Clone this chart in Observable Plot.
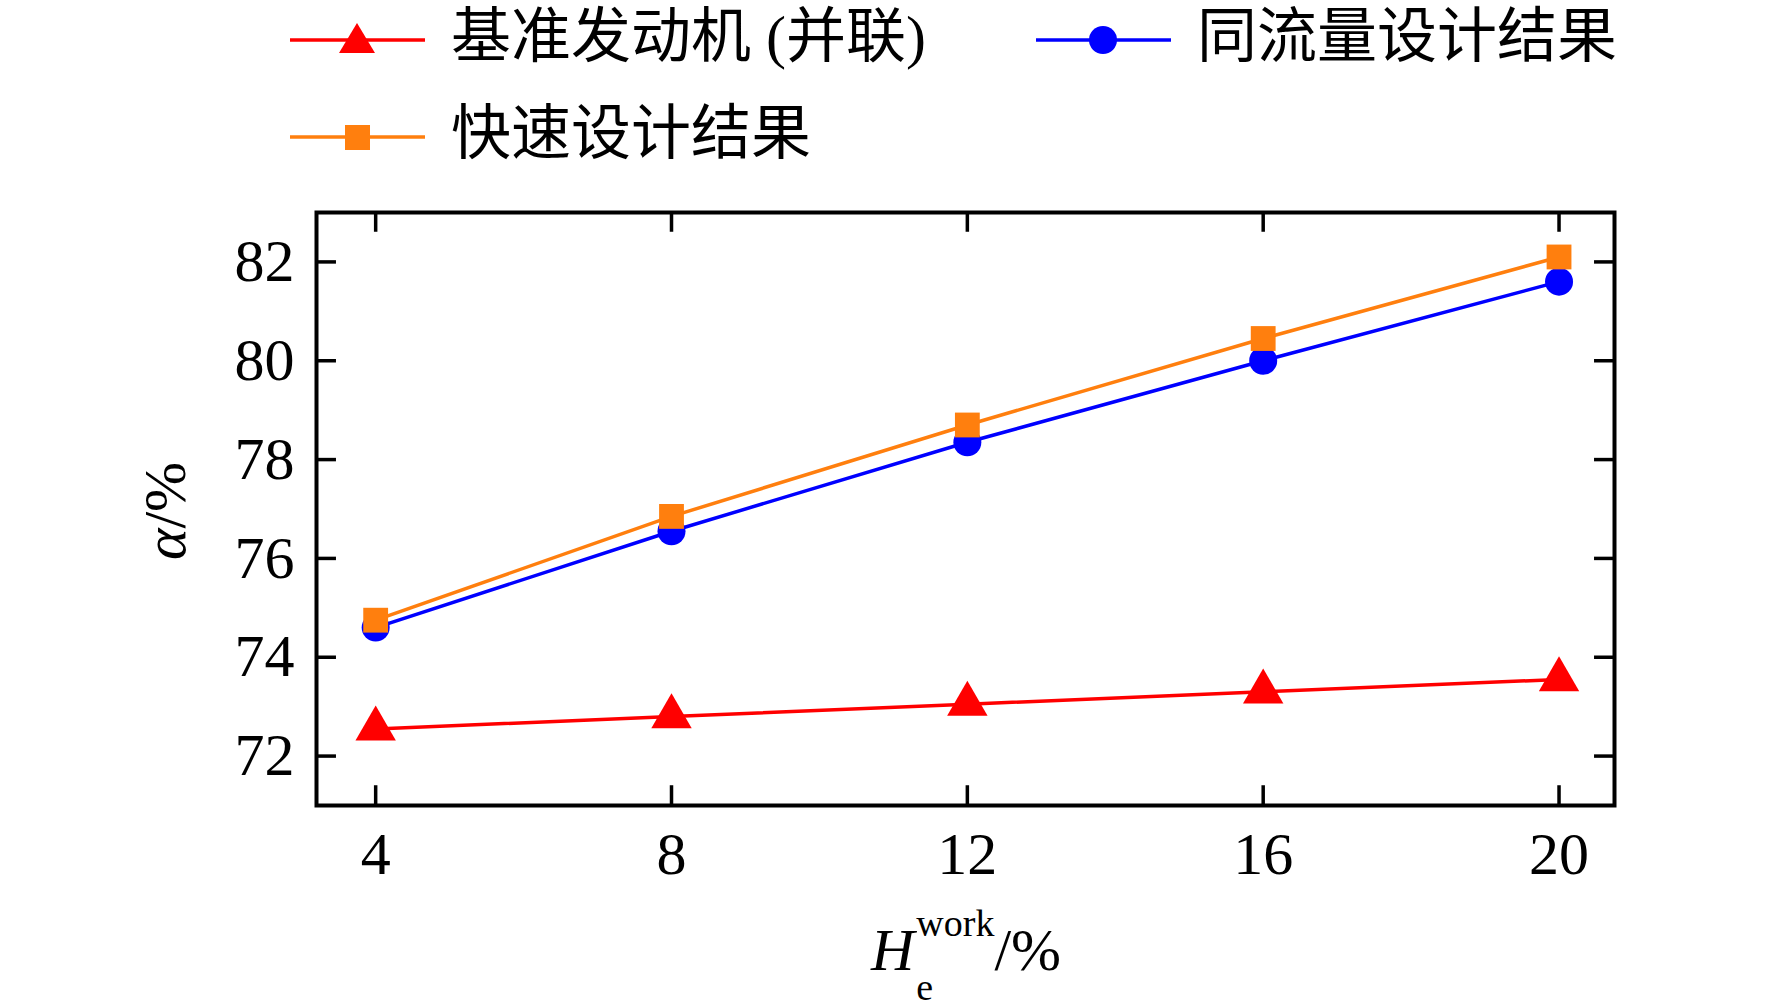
<!DOCTYPE html>
<html><head><meta charset="utf-8">
<script src="https://cdn.jsdelivr.net/npm/d3@7"></script>
<script src="https://cdn.jsdelivr.net/npm/@observablehq/plot@0.6"></script>
<style>
body{margin:0;background:#fff;font-family:"Liberation Serif","Noto Sans CJK SC",serif;}
#wrap{position:relative;width:1772px;height:1005px;}
.abs{position:absolute;white-space:nowrap;color:#000;}
.leg{position:absolute;font-size:60px;line-height:1;}
</style></head><body>
<div id="wrap"></div>
<script>
const xs = [4, 8, 12, 16, 20];
const baseline = [72.55, 72.8, 73.05, 73.3, 73.55];
const sameFlow = [74.6, 76.55, 78.35, 80.0, 81.6];
const fast = [74.75, 76.85, 78.7, 80.45, 82.1];
const xTicks = [4, 8, 12, 16, 20];
const yTicks = [72, 74, 76, 78, 80, 82];
const names = ["基准发动机 (并联)", "同流量设计结果", "快速设计结果"];
const colors = ["#ff0000", "#0000ff", "#ff7f0e"];

const rows = s => xs.map((x, i) => ({x, y: s[i]}));
const xd = [3.2, 20.75], yd = [71.0, 83.0];
const tx = 0.27, ty = 0.4;
const chart = Plot.plot({
  width: 1772, height: 1005,
  marginLeft: 316, marginRight: 158, marginTop: 212, marginBottom: 200,
  x: {domain: xd, label: null}, y: {domain: yd, label: null},
  style: {fontFamily: "Liberation Serif", fontSize: "60px", background: "transparent"},
  marks: [
    Plot.axisX(xTicks, {tickSize: 0, tickPadding: 26, fontSize: 60, fill: "#000", label: null}),
    Plot.axisY(yTicks, {tickSize: 0, tickPadding: 22, fontSize: 60, fill: "#000", label: null}),
    Plot.ruleX(xTicks, {x: d => d, y1: yd[0], y2: yd[0] + ty, stroke: "#000", strokeWidth: 3.5}),
    Plot.ruleX(xTicks, {x: d => d, y1: yd[1], y2: yd[1] - ty, stroke: "#000", strokeWidth: 3.5}),
    Plot.ruleY(yTicks, {y: d => d, x1: xd[0], x2: xd[0] + tx, stroke: "#000", strokeWidth: 3.5}),
    Plot.ruleY(yTicks, {y: d => d, x1: xd[1], x2: xd[1] - tx, stroke: "#000", strokeWidth: 3.5}),
    Plot.frame({stroke: "#000", strokeWidth: 4}),
    Plot.line(rows(baseline), {x: "x", y: "y", stroke: colors[0], strokeWidth: 3.5}),
    Plot.line(rows(sameFlow), {x: "x", y: "y", stroke: colors[1], strokeWidth: 3.5}),
    Plot.line(rows(fast), {x: "x", y: "y", stroke: colors[2], strokeWidth: 3.5}),
    Plot.dot(rows(baseline), {x: "x", y: "y", symbol: "triangle", r: 15, fill: colors[0]}),
    Plot.dot(rows(sameFlow), {x: "x", y: "y", symbol: "circle", r: 14, fill: colors[1]}),
    Plot.dot(rows(fast), {x: "x", y: "y", symbol: "square", r: 14, fill: colors[2]})
  ]
});
const wrap = document.getElementById("wrap");
chart.style.position = "absolute"; chart.style.left = "0"; chart.style.top = "0";
wrap.appendChild(chart);

function legItem(i, x, y, sym) {
  const s = `<svg class="abs" style="left:${x}px;top:${y-20}px" width="135" height="40">
    <line x1="0" y1="20" x2="135" y2="20" stroke="${colors[i]}" stroke-width="3.5"/>
    ${sym}</svg>
    <div class="leg" style="left:${x+161}px;top:${y-33}px">${names[i]}</div>`;
  wrap.insertAdjacentHTML("beforeend", s);
}
legItem(0, 290, 40, `<polygon points="67,3 85,33 49,33" fill="${colors[0]}"/>`);
legItem(1, 1036, 40, `<circle cx="67" cy="20" r="14" fill="${colors[1]}"/>`);
legItem(2, 290, 137, `<rect x="55" y="8" width="25" height="25" fill="${colors[2]}"/>`);

wrap.insertAdjacentHTML("beforeend",
 `<div class="abs" style="left:165px;top:511px;transform:translate(-50%,-50%) rotate(-90deg);font-size:60px"><i>α</i>/%</div>
  <div class="abs" style="left:966px;top:955px;transform:translate(-50%,-50%);font-size:60px"><i>H</i><span style="display:inline-flex;flex-direction:column;align-items:flex-start;vertical-align:middle;font-size:38px;line-height:1;margin-left:2px"><span style="position:relative;top:-14px">work</span><span style="position:relative;top:12px">e</span></span>/%</div>`);
</script>
</body></html>
